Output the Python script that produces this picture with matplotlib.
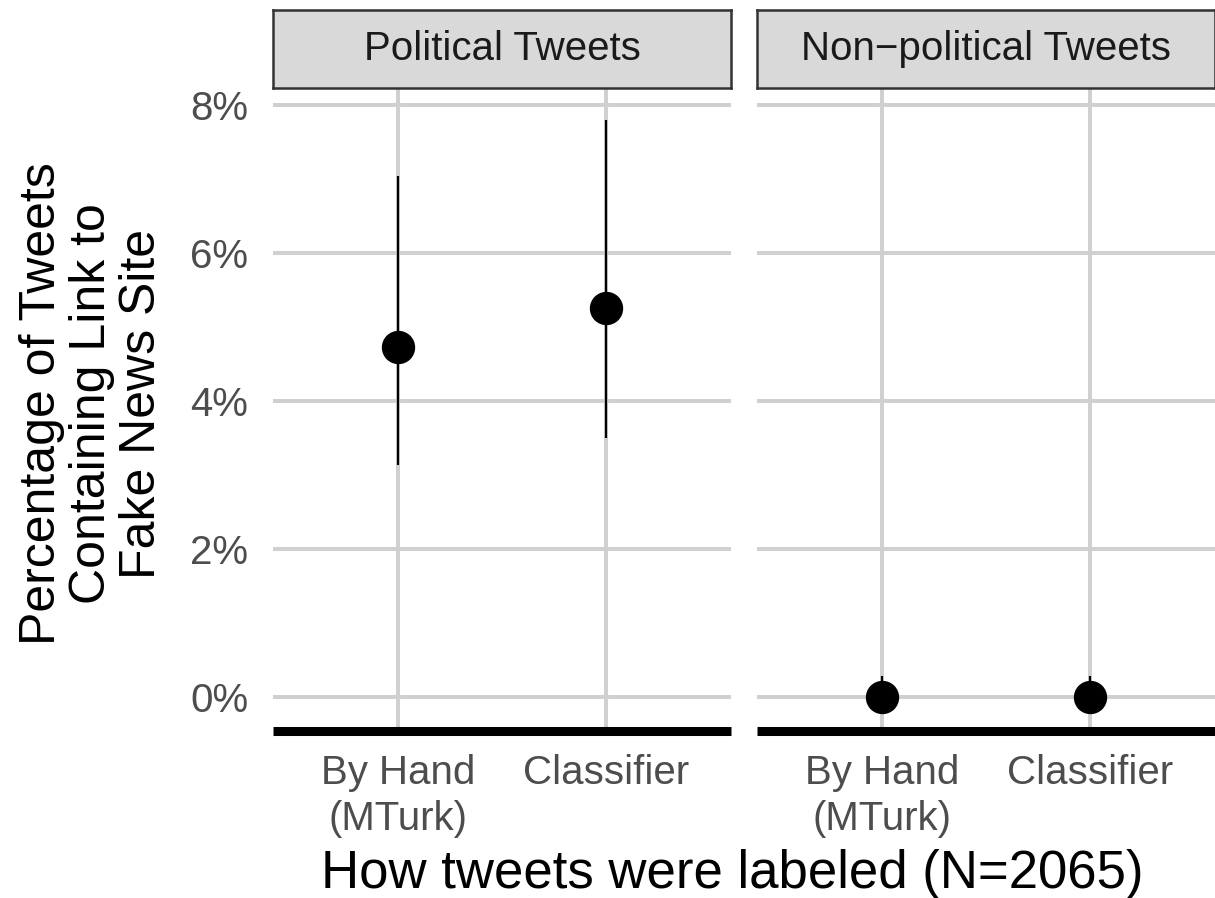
import matplotlib
matplotlib.use("Agg")
import matplotlib.pyplot as plt
from matplotlib.ticker import FuncFormatter

plt.rcParams["font.family"] = ["Liberation Sans", "DejaVu Sans"]

# estimates (percent) with lower/upper interval bounds
CATEGORIES = ["By Hand\n(MTurk)", "Classifier"]
PANELS = ["Political Tweets", "Non\u2212political Tweets"]

political_est = [4.73, 5.26]
political_lo = [3.14, 3.50]
political_hi = [7.04, 7.80]

nonpolitical_est = [0.0, 0.0]
nonpolitical_lo = [0.0, 0.0]
nonpolitical_hi = [0.28, 0.28]

Y_TICKS = [0, 2, 4, 6, 8]

W, H = 1215, 898
fig = plt.figure(figsize=(W / 100, H / 100), dpi=100)


def fx(px):
    return px / W


def fy(px):
    return 1 - px / H


panel_top, panel_bottom = 89, 730.5
strip_top = 10
panel_w = 458
lefts = [273, 757]

series = [
    (political_est, political_lo, political_hi),
    (nonpolitical_est, nonpolitical_lo, nonpolitical_hi),
]

for i, (left, title, (est, lo, hi)) in enumerate(zip(lefts, PANELS, series)):
    ax = fig.add_axes([fx(left), fy(panel_bottom), fx(panel_w),
                       fy(panel_top) - fy(panel_bottom)])
    xs = list(range(len(CATEGORIES)))
    ax.set_xlim(-0.6, len(CATEGORIES) - 0.4)
    ax.set_ylim(-0.453, 8.216)

    for y in Y_TICKS:
        ax.axhline(y, color="#d0d0d0", lw=2.9, zorder=0)
    for x in xs:
        ax.axvline(x, color="#d0d0d0", lw=2.9, zorder=0)

    ax.vlines(xs, lo, hi, color="black", lw=1.6, zorder=2)
    ax.plot(xs, est, "o", color="black", ms=23, zorder=3)

    for side in ["top", "left", "right"]:
        ax.spines[side].set_visible(False)
    ax.spines["bottom"].set_linewidth(6.5)
    ax.spines["bottom"].set_color("black")
    ax.spines["bottom"].set_capstyle("butt")

    ax.set_xticks(xs)
    ax.set_xticklabels(CATEGORIES, fontsize=29, color="#4d4d4d",
                       linespacing=1.25)
    ax.tick_params(axis="x", length=0, pad=17)
    ax.set_yticks(Y_TICKS)
    if i == 0:
        ax.yaxis.set_major_formatter(FuncFormatter(lambda v, p: f"{v:.0f}%"))
        ax.tick_params(axis="y", length=0, pad=18, labelsize=29,
                       labelcolor="#4d4d4d")
    else:
        ax.tick_params(axis="y", length=0, labelleft=False)

    # facet strip
    sax = fig.add_axes([fx(left), fy(panel_top - 1), fx(panel_w),
                        fy(strip_top) - fy(panel_top - 1)])
    sax.set_facecolor("#d9d9d9")
    sax.set_xticks([])
    sax.set_yticks([])
    for sp in sax.spines.values():
        sp.set_color("#333333")
        sp.set_linewidth(1.8)
    sax.text(0.5, 0.5, title, ha="center", va="center", fontsize=29,
             color="#1a1a1a", transform=sax.transAxes)

fig.text(fx(732), fy(888), "How tweets were labeled (N=2065)",
         ha="center", va="baseline", fontsize=38)
fig.text(fx(92), fy(404),
         "Percentage of Tweets\nContaining Link to\nFake News Site",
         ha="center", va="center", rotation=90, fontsize=36,
         multialignment="center", linespacing=1.1)

fig.savefig("out.png", dpi=100)
